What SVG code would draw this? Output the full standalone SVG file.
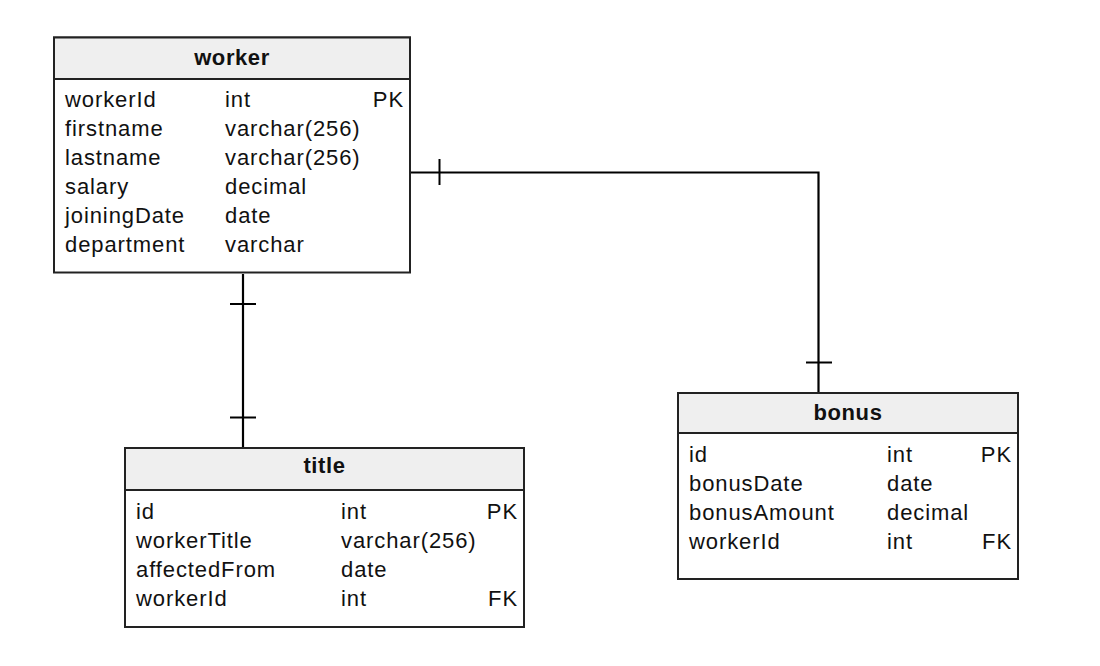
<svg xmlns="http://www.w3.org/2000/svg" width="1100" height="666" viewBox="0 0 1100 666">
<style>
.box{fill:#ffffff;stroke:#222222;stroke-width:2}
.hdr{fill:#efefef;stroke:#222222;stroke-width:2}
.t{font-family:"Liberation Sans",Arial,sans-serif;font-size:22px;fill:#111111;letter-spacing:0.9px}
.h{font-family:"Liberation Sans",Arial,sans-serif;font-size:22px;font-weight:bold;fill:#111111;text-anchor:middle;letter-spacing:0.6px}
.k{text-anchor:end}
.ln{fill:none;stroke:#000000;stroke-width:2.2}
.tk{stroke:#000000;stroke-width:2}
</style>
<rect width="1100" height="666" fill="#ffffff"/>
<g id="connectors">
<polyline class="ln" points="243,274 243,448"/>
<line class="tk" x1="230" y1="304" x2="256" y2="304"/>
<line class="tk" x1="230" y1="417.5" x2="256" y2="417.5"/>
<polyline class="ln" points="410,172.5 818.5,172.5 818.5,393"/>
<line class="tk" x1="439.5" y1="159" x2="439.5" y2="185"/>
<line class="tk" x1="806" y1="362.5" x2="832" y2="362.5"/>
</g>
<g id="worker">
<rect class="box" x="54" y="37.5" width="356" height="235"/>
<rect class="hdr" x="54" y="37.5" width="356" height="41.5"/>
<text class="h" x="232" y="65">worker</text>
<text class="t" x="65" y="106.5">workerId</text><text class="t" x="225" y="106.5">int</text><text class="t k" x="404" y="106.5">PK</text>
<text class="t" x="65" y="135.5">firstname</text><text class="t" x="225" y="135.5">varchar(256)</text>
<text class="t" x="65" y="164.5">lastname</text><text class="t" x="225" y="164.5">varchar(256)</text>
<text class="t" x="65" y="193.5">salary</text><text class="t" x="225" y="193.5">decimal</text>
<text class="t" x="65" y="222.5">joiningDate</text><text class="t" x="225" y="222.5">date</text>
<text class="t" x="65" y="251.5">department</text><text class="t" x="225" y="251.5">varchar</text>
</g>
<g id="title">
<rect class="box" x="125" y="448" width="399" height="179"/>
<rect class="hdr" x="125" y="448" width="399" height="42"/>
<text class="h" x="324.5" y="473">title</text>
<text class="t" x="136" y="518.5">id</text><text class="t" x="341" y="518.5">int</text><text class="t k" x="518" y="518.5">PK</text>
<text class="t" x="136" y="547.5">workerTitle</text><text class="t" x="341" y="547.5">varchar(256)</text>
<text class="t" x="136" y="576.5">affectedFrom</text><text class="t" x="341" y="576.5">date</text>
<text class="t" x="136" y="605.5">workerId</text><text class="t" x="341" y="605.5">int</text><text class="t k" x="518" y="605.5">FK</text>
</g>
<g id="bonus">
<rect class="box" x="678" y="393" width="340" height="186"/>
<rect class="hdr" x="678" y="393" width="340" height="40"/>
<text class="h" x="848" y="420">bonus</text>
<text class="t" x="689" y="462">id</text><text class="t" x="887" y="462">int</text><text class="t k" x="1012" y="462">PK</text>
<text class="t" x="689" y="491">bonusDate</text><text class="t" x="887" y="491">date</text>
<text class="t" x="689" y="520">bonusAmount</text><text class="t" x="887" y="520">decimal</text>
<text class="t" x="689" y="549">workerId</text><text class="t" x="887" y="549">int</text><text class="t k" x="1012" y="549">FK</text>
</g>
</svg>
